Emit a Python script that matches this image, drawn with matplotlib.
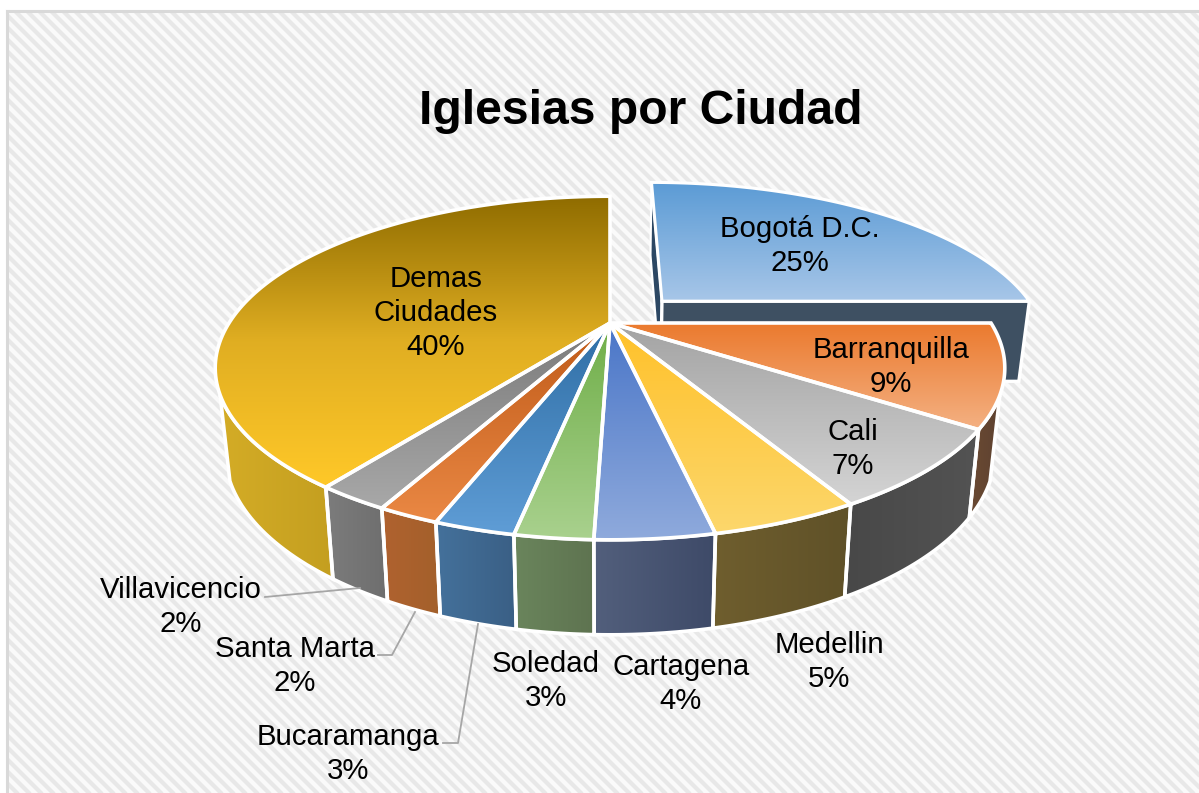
#!/usr/bin/env python3
"""Pastel 3D de iglesias por ciudad, dibujado a mano sobre ejes en pixeles."""

import matplotlib

matplotlib.use("Agg")
import matplotlib.pyplot as plt
import numpy as np
from matplotlib.colors import to_rgb
from matplotlib.patches import Polygon, Rectangle

plt.rcParams["font.family"] = ["Liberation Sans", "DejaVu Sans"]

# datos
TITLE = "Iglesias por Ciudad"
CITIES = ["Bogotá D.C.", "Barranquilla", "Cali", "Medellin", "Cartagena", "Soledad",
          "Bucaramanga", "Santa Marta", "Villavicencio", "Demas\nCiudades"]
# porcentaje rotulado y peso estimado de cada porcion (los rotulos estan redondeados)
PERCENT = [25, 9, 7, 5, 4, 3, 3, 2, 2, 40]
SHARE = [25.0, 9.6, 7.3, 4.8, 3.8, 2.5, 2.6, 2.0, 2.4, 40.0]

# colores: cara superior (de arriba a abajo) y pared (de izquierda a derecha)
TOP_COLORS = [("#5B9BD5", "#A7C6E8"), ("#EB7A2E", "#F4B183"), ("#A3A3A3", "#D4D4D4"),
              ("#FFC12A", "#FCD76C"), ("#4A76C8", "#8FAADC"), ("#6FAE48", "#A9D18E"),
              ("#2F6EA5", "#5F9DD6"), ("#BF5A18", "#EA8844"), ("#7A7A7A", "#A8A8A8"),
              ("#8F6C00", "#E0AE22", "#FFC828")]
WALL_COLORS = [("#3E5062", "#3E5062"), ("#6B4A33", "#5E4230"), ("#484848", "#535353"),
               ("#6F5E2E", "#5F5128"), ("#525F7C", "#3E4A68"), ("#6A855C", "#5E7350"),
               ("#44719B", "#3A5F85"), ("#B0622F", "#A3602B"), ("#7C7C7C", "#6E6E6E"),
               ("#D4AC26", "#C49F20")]
SLIVER_COLOR = "#2C4763"

# geometria de la proyeccion (pixeles)
CX, CY = 610, 323
SCALE_X, SCALE_Y = 381, 160
PERSPECTIVE = 0.262
EXPLODE = 0.2

# centro de cada rotulo, en el mismo orden que CITIES
LABEL_XY = [(800, 246), (891, 367), (853, 449), (829, 662), (681, 684), (546, 681),
            (348, 754), (295, 666), (181, 607), (436, 313)]
LEADERS = [[(265, 597), (360, 588)],
           [(378, 655), (392, 655), (415, 612)],
           [(443, 743), (458, 743), (478, 624)]]


def project(u, v, low=False):
    w = 1 + PERSPECTIVE * v
    x = SCALE_X * u / w
    y = -SCALE_Y * v / w
    if low:
        x = x * 0.975
        y = y + 38 / w + 43.5
    return CX + x, CY + y


def fill_gradient(ax, xs, ys, colors, vertical, zorder):
    poly = Polygon(np.column_stack([xs, ys]), closed=True, facecolor="none", edgecolor="none")
    ax.add_patch(poly)
    stops = np.array([to_rgb(c) for c in colors])
    t = np.linspace(0, 1, 128)
    pos = np.linspace(0, 1, len(colors))
    ramp = np.column_stack([np.interp(t, pos, stops[:, k]) for k in range(3)])
    img = ramp[:, None, :] if vertical else ramp[None, :, :]
    im = ax.imshow(img, extent=(min(xs), max(xs), max(ys), min(ys)), origin="upper",
                   aspect="auto", interpolation="bilinear", zorder=zorder)
    im.set_clip_path(poly)


def outline(ax, xs, ys, zorder, lw=2.6):
    ax.add_patch(Polygon(np.column_stack([xs, ys]), closed=True, facecolor="none",
                         edgecolor="white", linewidth=lw, joinstyle="miter", zorder=zorder))


def draw_background(ax):
    ax.add_patch(Rectangle((0, 0), 1199, 793, facecolor="white", edgecolor="none", zorder=0))
    frame = Rectangle((7, 11), 1300, 900, facecolor="#FAFAFA", edgecolor="none", zorder=0.1)
    ax.add_patch(frame)
    for start in np.arange(-800, 1200, 12):
        line, = ax.plot([start, start + 800], [0, 800], color="#E8E8E8", linewidth=3.0,
                        solid_capstyle="butt", zorder=0.2)
        line.set_clip_path(frame)
    ax.plot([7, 7], [11, 793], color="#D9D9D9", linewidth=2.2, zorder=0.3)
    ax.plot([7, 1199], [11, 11], color="#D9D9D9", linewidth=2.2, zorder=0.3)


def slice_arc(start, end, shift=0.0):
    t = np.linspace(start, end, 120)
    mid = (start + end) / 2
    du, dv = shift * np.sin(mid), shift * np.cos(mid)
    return np.sin(t) + du, np.cos(t) + dv, du, dv


def main():
    fig = plt.figure(figsize=(11.99, 7.93), dpi=100)
    ax = fig.add_axes([0, 0, 1, 1])
    draw_background(ax)

    edges = 2 * np.pi * np.cumsum([0] + SHARE) / sum(SHARE)

    # Bogota, separada: paredes radiales y cara superior
    u, v, du, dv = slice_arc(edges[0], edges[1], EXPLODE)
    cx_top, cy_top = project(du, dv)
    cx_low, cy_low = project(du, dv, low=True)
    bx0, by0 = project(u[0], v[0])
    bx0l, by0l = project(u[0], v[0], low=True)
    bx1, by1 = project(u[-1], v[-1])
    bx1l, by1l = project(u[-1], v[-1], low=True)

    sx, sy = [bx0, cx_top, cx_low, bx0l], [by0, cy_top, cy_low, by0l]
    ax.add_patch(Polygon(np.column_stack([sx, sy]), closed=True, facecolor=SLIVER_COLOR,
                         edgecolor="white", linewidth=1.6, zorder=1.1))
    fx, fy = [cx_top, bx1, bx1l, cx_low], [cy_top, by1, by1l, cy_low]
    ax.add_patch(Polygon(np.column_stack([fx, fy]), closed=True, facecolor=WALL_COLORS[0][0],
                         edgecolor="white", linewidth=2.4, zorder=1.2))
    hx, hy = project(u, v)
    xs = np.r_[cx_top, hx]
    ys = np.r_[cy_top, hy]
    fill_gradient(ax, xs, ys, TOP_COLORS[0], True, 1.3)
    outline(ax, xs, ys, 1.4, lw=2.2)

    # resto del pastel: primero paredes, luego caras superiores
    for i in range(1, len(SHARE)):
        u, v, _, _ = slice_arc(edges[i], edges[i + 1])
        keep = v < -0.4
        if keep.sum() > 1:
            hx, hy = project(u[keep], v[keep])
            lx, ly = project(u[keep], v[keep], low=True)
            xs = np.r_[hx, lx[::-1]]
            ys = np.r_[hy, ly[::-1]]
            fill_gradient(ax, xs, ys, WALL_COLORS[i], False, 2.0)
            outline(ax, xs, ys, 2.1)

    for i in range(1, len(SHARE)):
        u, v, _, _ = slice_arc(edges[i], edges[i + 1])
        hx, hy = project(u, v)
        fill_gradient(ax, np.r_[CX, hx], np.r_[CY, hy], TOP_COLORS[i], True, 3.0)
    for i in range(1, len(SHARE)):
        u, v, _, _ = slice_arc(edges[i], edges[i + 1])
        hx, hy = project(u, v)
        outline(ax, np.r_[CX, hx], np.r_[CY, hy], 3.1)

    for pts in LEADERS:
        px, py = zip(*pts)
        ax.plot(px, py, color="#A6A6A6", linewidth=1.3, zorder=4)

    for city, pct, (x, y) in zip(CITIES, PERCENT, LABEL_XY):
        ax.text(x, y, f"{city}\n{pct}%", ha="center", va="center", fontsize=21.2,
                linespacing=1.27, color="black", zorder=5)

    ax.text(641, 111, TITLE, ha="center", va="center", fontsize=34.6, fontweight="bold",
            color="black", zorder=5)

    ax.set_xlim(0, 1199)
    ax.set_ylim(793, 0)
    ax.axis("off")
    fig.savefig("out.png", dpi=100)
    plt.close(fig)


if __name__ == "__main__":
    main()
